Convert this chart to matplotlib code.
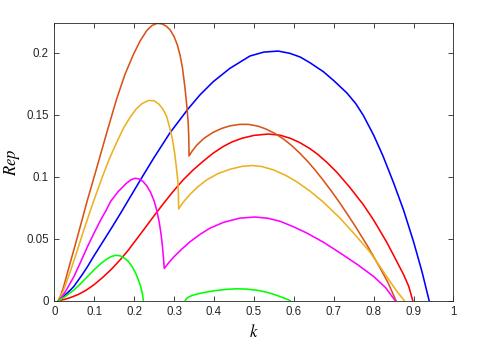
import numpy as np
import matplotlib
matplotlib.use("Agg")
import matplotlib.pyplot as plt

# growth rate Rep versus wavenumber k, six cases
k_blue = [0.01, 0.02, 0.03, 0.04, 0.049, 0.06, 0.07, 0.083, 0.1, 0.1245, 0.145, 0.166, 0.19,
          0.215, 0.25, 0.29, 0.336, 0.365, 0.398, 0.44, 0.49, 0.525, 0.561, 0.59, 0.616, 0.64,
          0.674, 0.7, 0.733, 0.755, 0.774, 0.8, 0.823, 0.85, 0.875, 0.9, 0.921, 0.939]
rep_blue = [0.0, 0.0025, 0.0055, 0.0085, 0.0115, 0.0165, 0.021, 0.0274, 0.0365, 0.049, 0.0595,
            0.0705, 0.0835, 0.097, 0.1155, 0.1355, 0.155, 0.166, 0.1766, 0.1874, 0.1973, 0.2005,
            0.2013, 0.1995, 0.1965, 0.192, 0.1847, 0.1775, 0.1675, 0.159, 0.1495, 0.1335, 0.117,
            0.095, 0.073, 0.0475, 0.0235, 0.0]

k_red = [0.01, 0.025, 0.04, 0.06, 0.08, 0.1, 0.122, 0.145, 0.165, 0.186, 0.207, 0.228, 0.25,
         0.275, 0.3, 0.323, 0.348, 0.373, 0.398, 0.424, 0.445, 0.47, 0.5, 0.536, 0.565, 0.591,
         0.615, 0.641, 0.66, 0.683, 0.708, 0.74, 0.774, 0.8, 0.833, 0.855, 0.875, 0.888, 0.898]
rep_red = [0.0, 0.001, 0.0025, 0.005, 0.0085, 0.013, 0.019, 0.026, 0.033, 0.041, 0.05, 0.059,
           0.0685, 0.079, 0.089, 0.0975, 0.1055, 0.1125, 0.119, 0.1245, 0.128, 0.131, 0.1333,
           0.1344, 0.1335, 0.131, 0.1275, 0.1225, 0.118, 0.1115, 0.1035, 0.0915, 0.0775, 0.065,
           0.047, 0.0335, 0.021, 0.0115, 0.0]

k_choc = [0.01, 0.017, 0.024, 0.035, 0.049, 0.066, 0.083, 0.1, 0.115, 0.135, 0.156, 0.177,
          0.198, 0.215, 0.232, 0.245, 0.258, 0.27, 0.28, 0.29, 0.3, 0.308, 0.315, 0.321, 0.3276,
          0.3326, 0.3355, 0.337, 0.3375, 0.345, 0.357, 0.375, 0.398, 0.42, 0.44, 0.465, 0.486,
          0.51, 0.53, 0.553, 0.575, 0.595, 0.615, 0.637, 0.653, 0.674, 0.695, 0.716, 0.75,
          0.783, 0.8, 0.816, 0.836, 0.856]
rep_choc = [0.0, 0.005, 0.012, 0.025, 0.041, 0.061, 0.0812, 0.1, 0.117, 0.1395, 0.1625, 0.1825,
            0.1985, 0.2095, 0.218, 0.222, 0.2237, 0.2232, 0.2215, 0.2185, 0.213, 0.2065, 0.198,
            0.188, 0.171, 0.155, 0.143, 0.13, 0.1167, 0.1205, 0.1255, 0.131, 0.1358, 0.139,
            0.141, 0.1422, 0.1422, 0.1408, 0.1385, 0.1348, 0.1302, 0.125, 0.119, 0.1115, 0.1055,
            0.097, 0.088, 0.0785, 0.062, 0.045, 0.0355, 0.0265, 0.0145, 0.0]

k_orange = [0.01, 0.017, 0.025, 0.04, 0.058, 0.078, 0.0995, 0.12, 0.138, 0.156, 0.173, 0.19,
            0.205, 0.22, 0.236, 0.25, 0.262, 0.272, 0.281, 0.29, 0.296, 0.3015, 0.306, 0.309,
            0.3108, 0.3115, 0.318, 0.325, 0.34, 0.36, 0.382, 0.41, 0.44, 0.47, 0.495, 0.52,
            0.549, 0.58, 0.607, 0.64, 0.674, 0.716, 0.758, 0.79, 0.816, 0.84, 0.86, 0.877]
rep_orange = [0.0, 0.004, 0.01, 0.0235, 0.041, 0.061, 0.0812, 0.0995, 0.1145, 0.1275, 0.139,
              0.148, 0.1545, 0.159, 0.1615, 0.1612, 0.1585, 0.1545, 0.149, 0.1385, 0.13, 0.119,
              0.107, 0.098, 0.088, 0.074, 0.0772, 0.0802, 0.0858, 0.092, 0.0975, 0.1025, 0.106,
              0.1083, 0.109, 0.1082, 0.1055, 0.101, 0.096, 0.0885, 0.0795, 0.0665, 0.0515,
              0.0395, 0.0275, 0.016, 0.0068, 0.0]

k_mag = [0.01, 0.02, 0.03, 0.049, 0.065, 0.083, 0.1, 0.116, 0.13, 0.141, 0.16, 0.18, 0.192,
         0.202, 0.212, 0.222, 0.232, 0.241, 0.25, 0.257, 0.263, 0.2675, 0.271, 0.2735, 0.2755,
         0.287, 0.3, 0.32, 0.34, 0.365, 0.39, 0.424, 0.465, 0.503, 0.535, 0.566, 0.6, 0.633,
         0.675, 0.716, 0.76, 0.8, 0.83, 0.854]
rep_mag = [0.0, 0.0035, 0.0085, 0.0194, 0.0305, 0.0435, 0.0548, 0.065, 0.073, 0.08, 0.088,
           0.0945, 0.0975, 0.0987, 0.0982, 0.0962, 0.0925, 0.0875, 0.0805, 0.0725, 0.063,
           0.0535, 0.0435, 0.0345, 0.026, 0.0308, 0.0355, 0.0418, 0.0475, 0.0535, 0.0585,
           0.0632, 0.0666, 0.0675, 0.0665, 0.064, 0.0595, 0.0545, 0.047, 0.0385, 0.029, 0.0195,
           0.0105, 0.0]

k_green1 = [0.01, 0.02, 0.03, 0.049, 0.065, 0.083, 0.1, 0.116, 0.13, 0.143, 0.154, 0.165,
            0.175, 0.185, 0.195, 0.204, 0.211, 0.2165, 0.2205, 0.223]
rep_green1 = [0.0, 0.0018, 0.004, 0.0086, 0.0135, 0.0194, 0.025, 0.0298, 0.0333, 0.0357,
              0.0366, 0.0362, 0.0345, 0.0318, 0.0275, 0.022, 0.0165, 0.0113, 0.006, 0.0]
k_green2 = [0.328, 0.3305, 0.335, 0.345, 0.36, 0.382, 0.405, 0.43, 0.455, 0.48, 0.507, 0.53,
            0.549, 0.565, 0.58, 0.591]
rep_green2 = [0.0, 0.0015, 0.0027, 0.0042, 0.0056, 0.007, 0.0082, 0.0091, 0.0096, 0.0094,
              0.0085, 0.007, 0.0052, 0.0034, 0.0016, 0.0]

plt.rcParams['mathtext.fontset'] = 'stix'
plt.rcParams['font.family'] = ['Liberation Sans', 'DejaVu Sans']

fig = plt.figure(figsize=(4.87, 3.51), dpi=100)
ax = fig.add_axes([0.1115, 0.1433, 0.8197, 0.7903])

lw = 1.15
ax.plot(k_blue, rep_blue, color='#0000FF', lw=lw)
ax.plot(k_red, rep_red, color='#FF0000', lw=lw)
ax.plot(k_choc, rep_choc, color='#D95319', lw=lw)
ax.plot(k_orange, rep_orange, color='#EDB120', lw=lw)
ax.plot(k_mag, rep_mag, color='#FF00FF', lw=lw)
ax.plot(k_green1, rep_green1, color='#00FF00', lw=lw)
ax.plot(k_green2, rep_green2, color='#00FF00', lw=lw)

ax.set_xlim(0, 1)
ax.set_ylim(0, 0.2237)
ax.set_xticks(np.arange(0, 1.01, 0.1))
ax.set_xticklabels(['0', '0.1', '0.2', '0.3', '0.4', '0.5', '0.6', '0.7', '0.8', '0.9', '1'])
ax.set_yticks([0, 0.05, 0.1, 0.15, 0.2])
ax.set_yticklabels(['0', '0.05', '0.1', '0.15', '0.2'])
ax.tick_params(direction='in', top=True, right=True, length=3.5, width=0.6,
               labelsize=8.3, colors='#262626', pad=4)
for s in ax.spines.values():
    s.set_linewidth(0.6)
    s.set_color('#262626')

ax.set_xlabel('$k$', fontsize=12, labelpad=3.5)
ax.set_ylabel('$Rep$', fontsize=12, labelpad=3)

fig.savefig('out.png', dpi=100)
